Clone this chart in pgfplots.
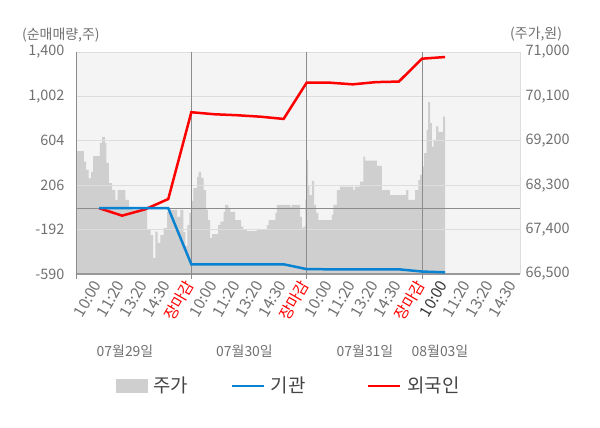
\documentclass[border=0pt]{standalone}
\usepackage{fontspec}
\setmainfont{Noto Sans CJK KR}
\usepackage{pgfplots}
\pgfplotsset{compat=1.18}
\definecolor{areagray}{HTML}{CFCFCF}
\definecolor{bggray}{HTML}{F4F4F4}
\definecolor{gridgray}{HTML}{DDDDDD}
\definecolor{linegray}{HTML}{8C8C8C}
\definecolor{axisgray}{HTML}{999999}
\definecolor{txtgray}{HTML}{707070}
\definecolor{darktxt}{HTML}{333333}
\definecolor{legtxt}{HTML}{444444}
\definecolor{blueline}{HTML}{0A82D2}
\definecolor{redline}{HTML}{FF0000}
\begin{document}
\begin{tikzpicture}
\useasboundingbox (0,0) rectangle (600bp,428bp);
% price (right axis)
\begin{axis}[
  at={(76bp,154bp)}, anchor=south west, scale only axis,
  width=444bp, height=222bp,
  xmin=0, xmax=19.25, ymin=66500, ymax=71000,
  axis background/.style={fill=bggray},
  hide x axis,
  axis y line*=right,
  y axis line style={draw=gridgray},
  scaled y ticks=false,
  ytick={66500,67400,68300,69200,70100,71000},
  yticklabels={{66,500},{67,400},{68,300},{69,200},{70,100},{71,000}},
  major tick length=0pt,
  yticklabel style={font=\fontsize{14.5}{16}\selectfont, text=txtgray, xshift=2bp},
]
\addplot[const plot mark left, fill=areagray, draw=none] table {
x y
0 68990
0.34 68780
0.44 68610
0.55 68440
0.66 68570
0.74 68890
1.03 69160
1.13 69280
1.25 69160
1.32 68750
1.42 68340
1.57 68200
1.71 68000
1.81 68200
2.14 68000
2.29 67840
2.43 67800
3.08 67390
3.23 67290
3.34 66820
3.44 67360
3.54 67130
3.66 67290
3.80 67430
3.95 67760
4.09 67800
4.38 67660
4.52 67800
4.65 67350
4.74 67070
4.83 67490
4.91 67740
5.00 67980
5.09 68240
5.25 68470
5.32 68570
5.42 68450
5.53 68200
5.64 67800
5.72 67590
5.82 67230
5.90 67310
6.16 67490
6.26 67560
6.40 67760
6.47 67900
6.61 67840
6.69 67760
6.90 67590
7.16 67460
7.26 67390
7.41 67370
7.84 67390
8.28 67490
8.35 67590
8.64 67740
8.71 67900
9.29 67860
9.36 67900
9.72 67660
9.79 67430
9.86 67460
9.94 68000
10.00 68810
10.06 68300
10.12 68100
10.23 68390
10.32 67900
10.41 67740
10.51 67590
11.09 67700
11.16 67900
11.31 68200
11.45 68270
12.03 68200
12.10 68270
12.32 68370
12.46 68880
12.53 68800
13.04 68690
13.26 68200
13.61 68100
14.31 68200
14.41 68000
14.70 68200
14.84 68410
14.92 68510
15.00 68680
15.09 68950
15.20 69420
15.27 69990
15.35 69560
15.43 69080
15.50 69220
15.61 69490
15.71 69380
15.92 69690
16.00 69690
} \closedcycle;
\end{axis}
% net buying (left axis)
\begin{axis}[
  at={(76bp,154bp)}, anchor=south west, scale only axis,
  width=444bp, height=222bp,
  xmin=0, xmax=19.25, ymin=-590, ymax=1400,
  axis x line*=bottom, axis y line*=left,
  axis line style={-},
  x axis line style={draw=axisgray, line width=1.2bp},
  y axis line style={draw=axisgray, line width=0.8bp},
  ytick={-590,-192,206,604,1002,1400},
  yticklabels={-590,-192,206,604,{1,002},{1,400}},
  ymajorgrids, major grid style={gridgray, line width=0.8bp},
  extra y ticks={0}, extra y tick labels={},
  extra y tick style={grid=major, major grid style={linegray, line width=1.2bp}},
  y tick style={draw=none},
  yticklabel style={font=\fontsize{14.5}{16}\selectfont, text=txtgray, xshift=-3bp},
  xtick={1,...,19},
  xticklabels={10:00,11:20,13:20,14:30,{\color{red}장마감},10:00,11:20,13:20,14:30,{\color{red}장마감},10:00,11:20,13:20,14:30,{\color{red}장마감},{\color{darktxt}10:00},11:20,13:20,14:30},
  xticklabel style={rotate=60, anchor=east, font=\fontsize{15.5}{16}\selectfont, text=txtgray},
  tick align=outside, major tick length=5bp,
  x tick style={draw=none},
  extra x ticks={0,5,10,15}, extra x tick labels={},
  extra x tick style={grid=major, major grid style={linegray, line width=0.9bp}, x tick style={draw=linegray, line width=0.9bp}},
  legend style={at={(0.479,-0.504)}, anchor=center, draw=none, fill=none, legend columns=3,
    font=\fontsize{19}{21}\selectfont, text=legtxt,
    /tikz/every even column/.append style={column sep=0bp}},
]
\addlegendimage{legend image code/.code={\fill[areagray] (0bp,-6.5bp) rectangle (31bp,6.5bp);}}
\addlegendimage{legend image code/.code={\draw[blueline, line width=2.5bp] (0bp,0bp) -- (32bp,0bp);}}
\addlegendimage{legend image code/.code={\draw[redline, line width=2.5bp] (0bp,0bp) -- (32bp,0bp);}}
\addplot[redline, line width=2.5bp, forget plot] table {
x y
1 0
2 -67
3 -10
4 82
5 860
6 842
7 833
8 820
9 800
10 1125
11 1125
12 1110
13 1130
14 1135
15 1340
16 1355
};
\addplot[blueline, line width=2.5bp, forget plot] table {
x y
1 0
2 0
3 0
4 0
5 -503
6 -503
7 -503
8 -503
9 -503
10 -546
11 -548
12 -548
13 -548
14 -548
15 -568
16 -575
};
\legend{\hspace{4bp}\makebox[75bp][l]{주가},\hspace{4bp}\makebox[94bp][l]{기관},\hspace{4bp}외국인}
\end{axis}
\node[font=\fontsize{14}{16}\selectfont, text=txtgray, anchor=west, inner sep=0] at (22bp,393bp) {(순매매량,주)};
\node[font=\fontsize{14}{16}\selectfont, text=txtgray, anchor=west, inner sep=0] at (510bp,394bp) {(주가,원)};
\node[font=\fontsize{14}{16}\selectfont, text=txtgray] at (125bp,76.5bp) {07월29일};
\node[font=\fontsize{14}{16}\selectfont, text=txtgray] at (244.5bp,76.5bp) {07월30일};
\node[font=\fontsize{14}{16}\selectfont, text=txtgray] at (365bp,76.5bp) {07월31일};
\node[font=\fontsize{14}{16}\selectfont, text=txtgray] at (440bp,76.5bp) {08월03일};
\end{tikzpicture}
\end{document}
